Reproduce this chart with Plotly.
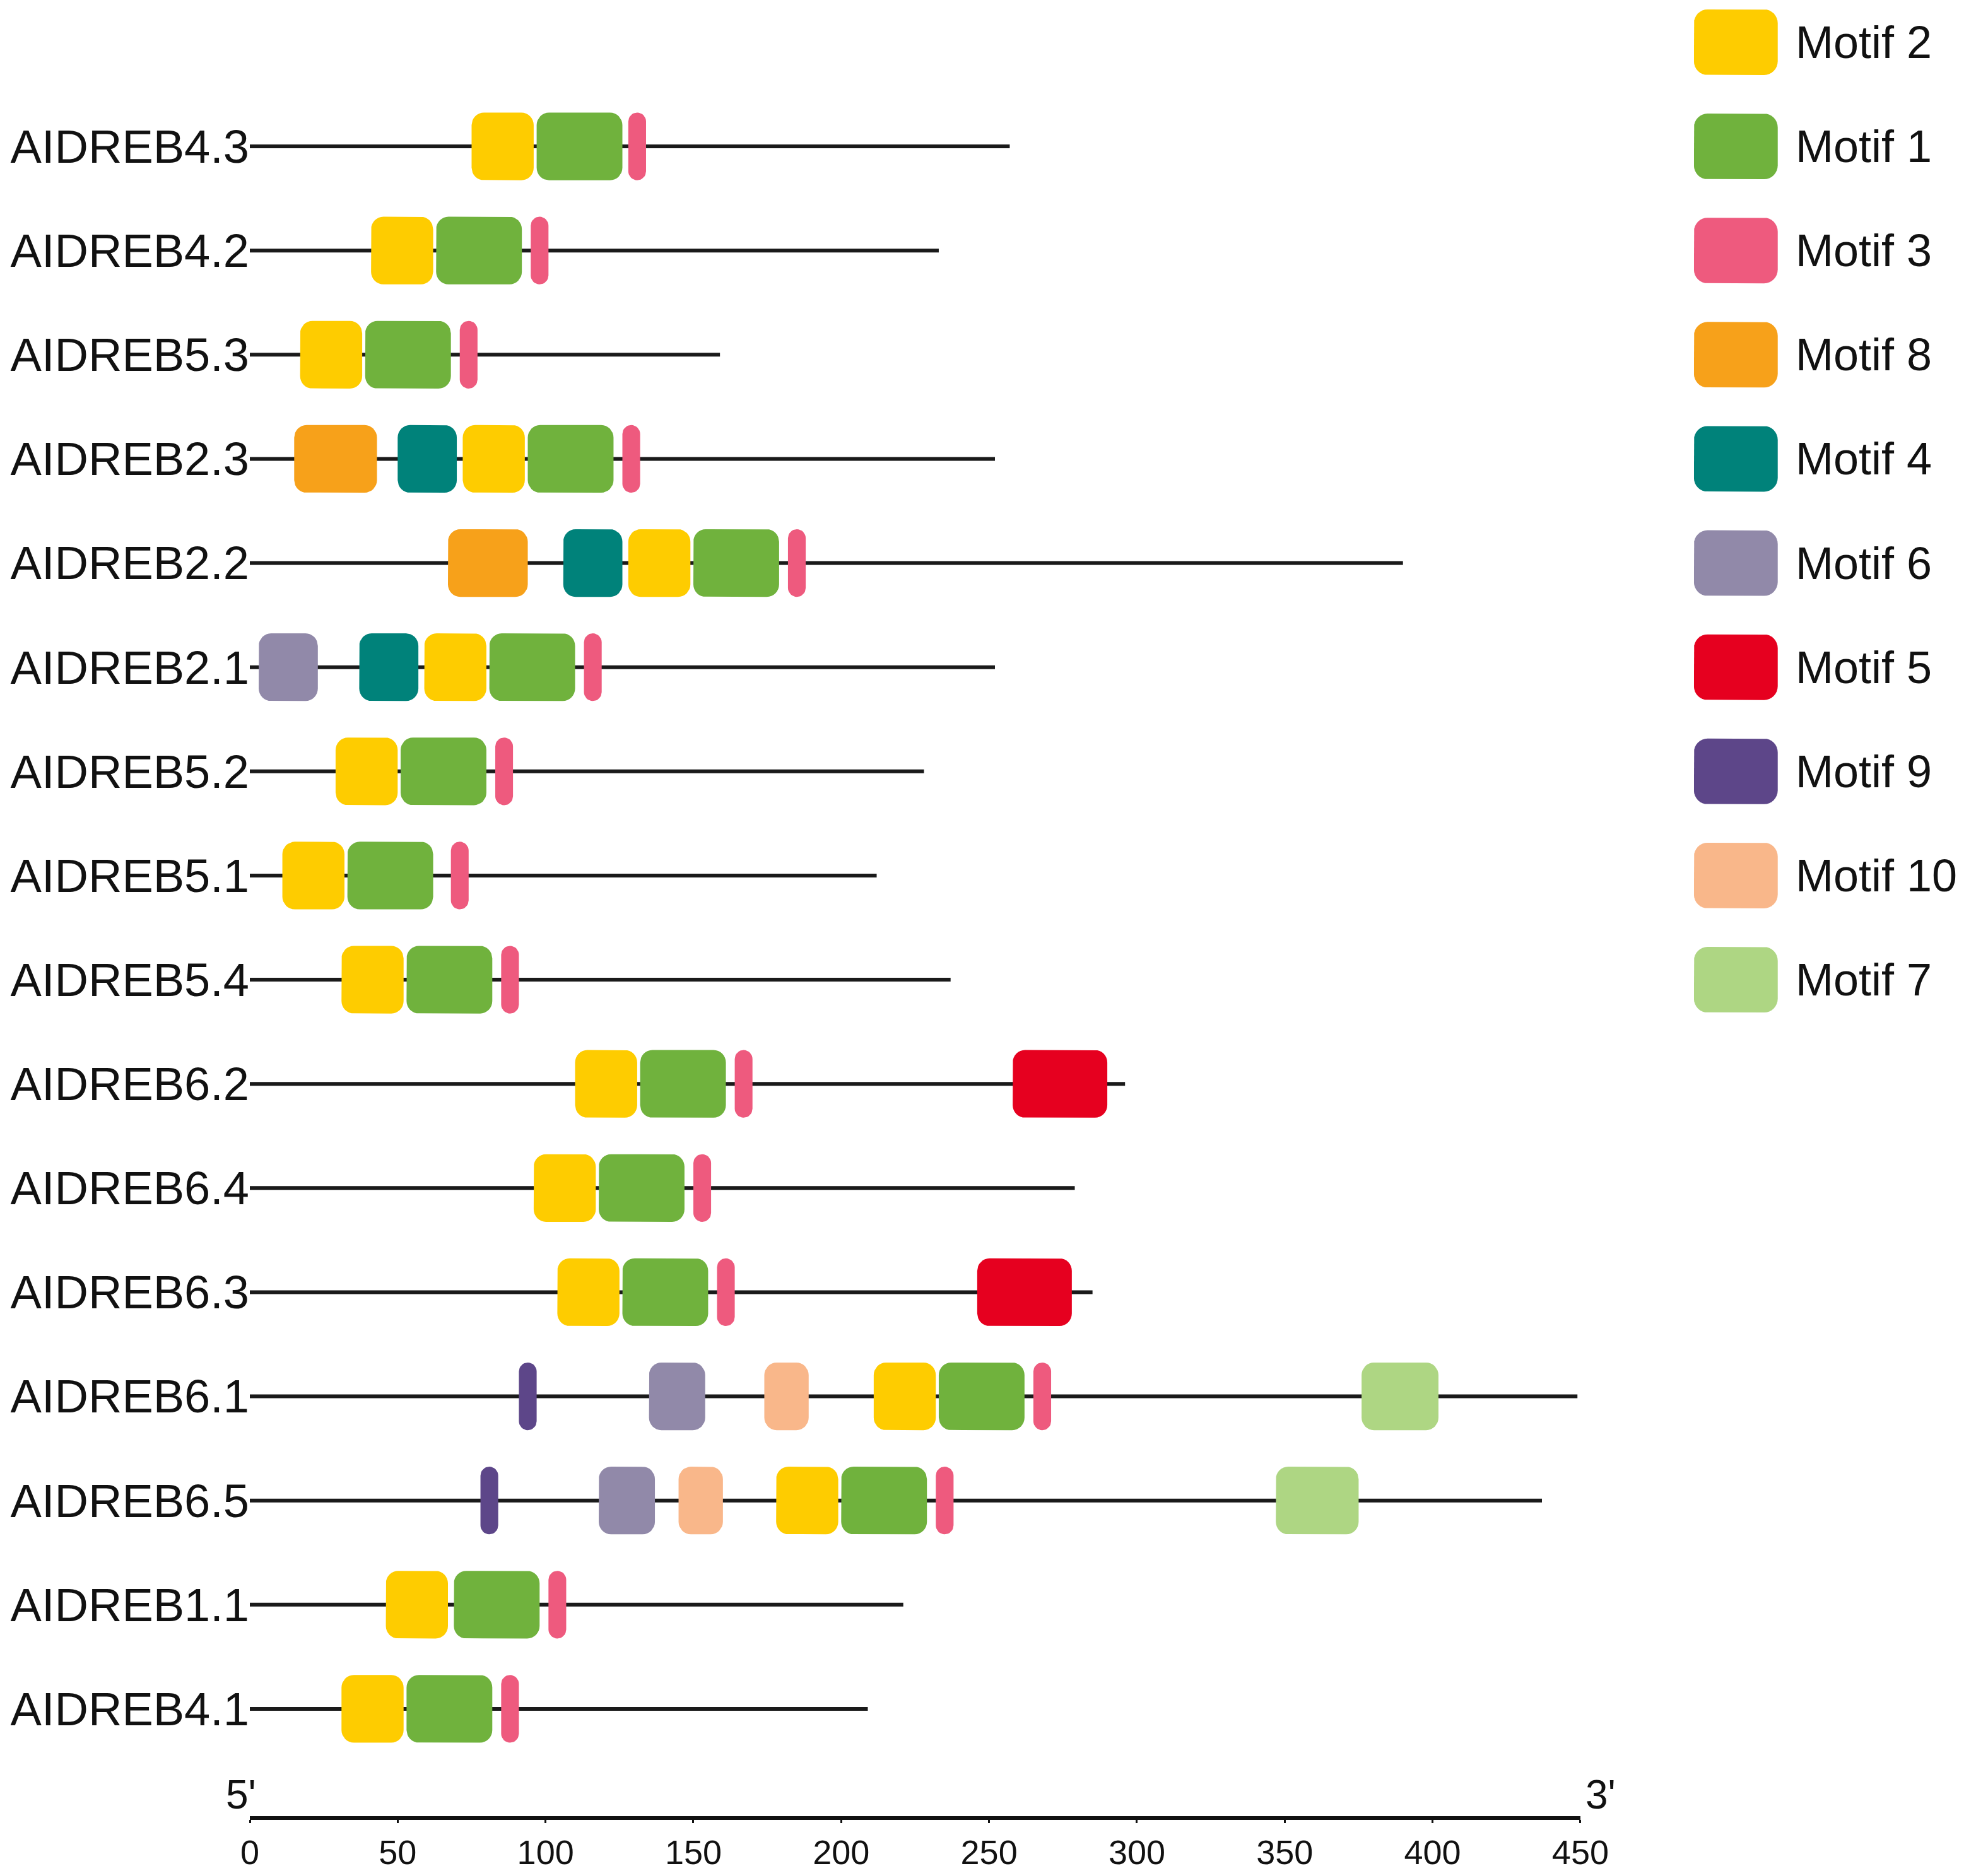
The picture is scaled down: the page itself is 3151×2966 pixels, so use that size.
import math
import plotly.graph_objects as go

# gene order, top to bottom, and protein lengths (aa)
genes = ["AIDREB4.3", "AIDREB4.2", "AIDREB5.3", "AIDREB2.3", "AIDREB2.2", "AIDREB2.1",
         "AIDREB5.2", "AIDREB5.1", "AIDREB5.4", "AIDREB6.2", "AIDREB6.4", "AIDREB6.3",
         "AIDREB6.1", "AIDREB6.5", "AIDREB1.1", "AIDREB4.1"]
lengths = [257, 233, 159, 252, 390, 252, 228, 212, 237, 296, 279, 285, 449, 437, 221, 209]

# motif hits: (gene, start, end)
motif2_hits = [("AIDREB4.3", 75, 96), ("AIDREB4.2", 41, 62), ("AIDREB5.3", 17, 38),
               ("AIDREB2.3", 72, 93), ("AIDREB2.2", 128, 149), ("AIDREB2.1", 59, 80),
               ("AIDREB5.2", 29, 50), ("AIDREB5.1", 11, 32), ("AIDREB5.4", 31, 52),
               ("AIDREB6.2", 110, 131), ("AIDREB6.4", 96, 117), ("AIDREB6.3", 104, 125),
               ("AIDREB6.1", 211, 232), ("AIDREB6.5", 178, 199), ("AIDREB1.1", 46, 67),
               ("AIDREB4.1", 31, 52)]
motif1_hits = [("AIDREB4.3", 97, 126), ("AIDREB4.2", 63, 92), ("AIDREB5.3", 39, 68),
               ("AIDREB2.3", 94, 123), ("AIDREB2.2", 150, 179), ("AIDREB2.1", 81, 110),
               ("AIDREB5.2", 51, 80), ("AIDREB5.1", 33, 62), ("AIDREB5.4", 53, 82),
               ("AIDREB6.2", 132, 161), ("AIDREB6.4", 118, 147), ("AIDREB6.3", 126, 155),
               ("AIDREB6.1", 233, 262), ("AIDREB6.5", 200, 229), ("AIDREB1.1", 69, 98),
               ("AIDREB4.1", 53, 82)]
motif3_hits = [("AIDREB4.3", 128, 134), ("AIDREB4.2", 95, 101), ("AIDREB5.3", 71, 77),
               ("AIDREB2.3", 126, 132), ("AIDREB2.2", 182, 188), ("AIDREB2.1", 113, 119),
               ("AIDREB5.2", 83, 89), ("AIDREB5.1", 68, 74), ("AIDREB5.4", 85, 91),
               ("AIDREB6.2", 164, 170), ("AIDREB6.4", 150, 156), ("AIDREB6.3", 158, 164),
               ("AIDREB6.1", 265, 271), ("AIDREB6.5", 232, 238), ("AIDREB1.1", 101, 107),
               ("AIDREB4.1", 85, 91)]
motif8_hits = [("AIDREB2.3", 15, 43), ("AIDREB2.2", 67, 94)]
motif4_hits = [("AIDREB2.3", 50, 70), ("AIDREB2.2", 106, 126), ("AIDREB2.1", 37, 57)]
motif6_hits = [("AIDREB2.1", 3, 23), ("AIDREB6.1", 135, 154), ("AIDREB6.5", 118, 137)]
motif5_hits = [("AIDREB6.2", 258, 290), ("AIDREB6.3", 246, 278)]
motif9_hits = [("AIDREB6.1", 91, 97), ("AIDREB6.5", 78, 84)]
motif10_hits = [("AIDREB6.1", 174, 189), ("AIDREB6.5", 145, 160)]
motif7_hits = [("AIDREB6.1", 376, 402), ("AIDREB6.5", 347, 375)]

motif_names = ["Motif 2", "Motif 1", "Motif 3", "Motif 8", "Motif 4",
               "Motif 6", "Motif 5", "Motif 9", "Motif 10", "Motif 7"]
motif_colors = ["#FECC00", "#70B23D", "#EE5A7E", "#F7A11A", "#00827A",
                "#9189A9", "#E6001F", "#5D4689", "#F9B78A", "#AED683"]
motif_hits = [motif2_hits, motif1_hits, motif3_hits, motif8_hits, motif4_hits,
              motif6_hits, motif5_hits, motif9_hits, motif10_hits, motif7_hits]

FONT = "Liberation Sans, Arial, sans-serif"

# page body keeps its default 8px margin, so the figure is 8px smaller
W, H = 3143, 2958
ML, MB = 388, 74
X_DOM = [0, 0.7782]
Y_RANGE = [16.03, -1.357]
X2_DOM = [0.8446, 0.9956]
X2_RANGE = [0, 3.08]

# pixels per data unit, used to keep the corner arcs circular on screen
plot_w = W - ML
px_x = plot_w * (X_DOM[1] - X_DOM[0]) / 450
px_y = (H - MB) / abs(Y_RANGE[0] - Y_RANGE[1])
px_x2 = plot_w * (X2_DOM[1] - X2_DOM[0]) / (X2_RANGE[1] - X2_RANGE[0])

row = {g: i for i, g in enumerate(genes)}


def rounded_box(x0, x1, yc, h, r_px, pxx):
    rx = min(r_px / pxx, (x1 - x0) / 2)
    ry = min(rx * pxx / px_y, h / 2)
    y0, y1 = yc - h / 2, yc + h / 2
    xs, ys = [], []
    corners = [(x1 - rx, y1 - ry, 0), (x0 + rx, y1 - ry, 90),
               (x0 + rx, y0 + ry, 180), (x1 - rx, y0 + ry, 270)]
    for cx, cy, a0 in corners:
        for k in range(9):
            a = math.radians(a0 + k * 90 / 8)
            xs.append(cx + rx * math.cos(a))
            ys.append(cy + ry * math.sin(a))
    xs.append(xs[0])
    ys.append(ys[0])
    return xs, ys


fig = go.Figure()

# backbone lines
lx, ly = [], []
for i, L in enumerate(lengths):
    lx += [0, L, None]
    ly += [i, i, None]
fig.add_trace(go.Scatter(x=lx, y=ly, mode="lines", line=dict(color="#1a1a1a", width=6),
                         hoverinfo="skip", showlegend=False))

for name, color, hits in zip(motif_names, motif_colors, motif_hits):
    bx, by = [], []
    for g, s, e in hits:
        xs, ys = rounded_box(s, e, row[g], 0.65, 20, px_x)
        bx += xs + [None]
        by += ys + [None]
    fig.add_trace(go.Scatter(x=bx, y=by, mode="lines", fill="toself", fillcolor=color,
                             line=dict(color=color, width=0), name=name,
                             hoverinfo="skip", showlegend=False))

# legend swatches on a second x axis, sharing the row positions
legend_rows = list(range(-1, len(motif_names) - 1))
for name, color, yy in zip(motif_names, motif_colors, legend_rows):
    xs, ys = rounded_box(0, 1, yy, 0.63, 22, px_x2)
    fig.add_trace(go.Scatter(x=xs, y=ys, xaxis="x2", yaxis="y", mode="lines", fill="toself",
                             fillcolor=color, line=dict(color=color, width=0),
                             hoverinfo="skip", showlegend=False))
    fig.add_annotation(x=1.2, y=yy, xref="x2", yref="y", text=name, showarrow=False,
                       xanchor="left", yanchor="middle",
                       font=dict(family=FONT, size=72, color="#111"))

fig.add_annotation(x=0, y=0, xref="x", yref="paper", text="5'", showarrow=False,
                   xanchor="right", yanchor="bottom", xshift=12, yshift=-4,
                   font=dict(family=FONT, size=64, color="#111"))
fig.add_annotation(x=450, y=0, xref="x", yref="paper", text="3'", showarrow=False,
                   xanchor="left", yanchor="bottom", xshift=6, yshift=-4,
                   font=dict(family=FONT, size=64, color="#111"))

fig.update_layout(
    width=W, height=H,
    margin=dict(l=ML, r=0, t=0, b=MB),
    plot_bgcolor="white", paper_bgcolor="white",
    xaxis=dict(domain=X_DOM, range=[0, 450], tickvals=list(range(0, 451, 50)),
               showgrid=False, zeroline=False, showline=True, linecolor="#111", linewidth=6,
               ticks="outside", ticklen=5, tickwidth=3, tickcolor="#111",
               tickfont=dict(family=FONT, size=54, color="#111")),
    xaxis2=dict(domain=X2_DOM, range=X2_RANGE, anchor="y", visible=False),
    yaxis=dict(range=Y_RANGE, tickvals=list(range(len(genes))), ticktext=genes,
               showgrid=False, zeroline=False, showline=False, ticks="",
               tickfont=dict(family=FONT, size=74, color="#111")),
)

fig.write_html("out.html")
